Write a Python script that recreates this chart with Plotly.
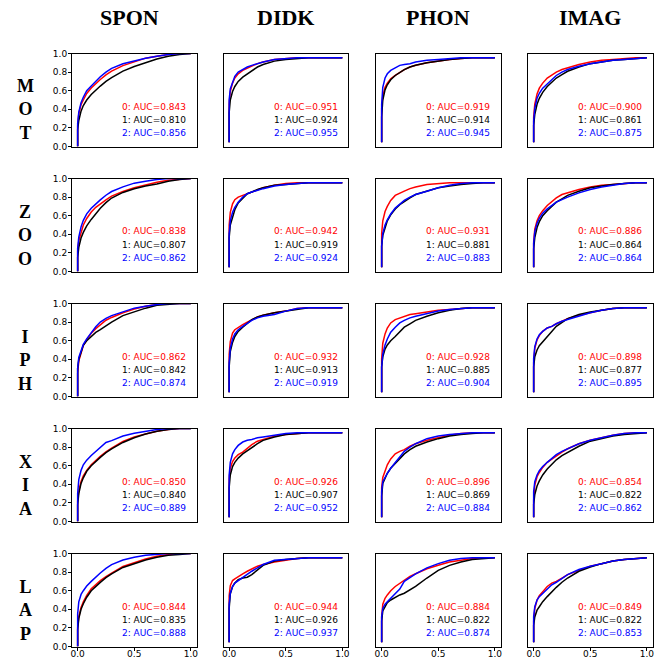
import plotly.graph_objects as go

# ---------------- data ----------------
ROWS = ["MOT", "ZOO", "IPH", "XIA", "LAP"]
COLS = ["SPON", "DIDK", "PHON", "IMAG"]
CLASS_NAMES = ["0", "1", "2"]
CLASS_COLORS = ["#ff0000", "#000000", "#0000ff"]

# shared false-positive-rate grid (x of each ROC point)
FPR = [0, 0, 0.01, 0.03, 0.05, 0.08, 0.12, 0.16, 0.2, 0.25, 0.3, 0.4, 0.5, 0.6, 0.7, 0.8, 0.9, 1.0]

# AUC values printed in each panel: [class0, class1, class2]
AUC_MOT = [[0.843, 0.810, 0.856], [0.951, 0.924, 0.955], [0.919, 0.914, 0.945], [0.900, 0.861, 0.875]]
AUC_ZOO = [[0.838, 0.807, 0.862], [0.942, 0.919, 0.924], [0.931, 0.881, 0.883], [0.886, 0.864, 0.864]]
AUC_IPH = [[0.862, 0.842, 0.874], [0.932, 0.913, 0.919], [0.928, 0.885, 0.904], [0.898, 0.877, 0.895]]
AUC_XIA = [[0.850, 0.840, 0.889], [0.926, 0.907, 0.952], [0.896, 0.869, 0.884], [0.854, 0.822, 0.862]]
AUC_LAP = [[0.844, 0.835, 0.888], [0.944, 0.926, 0.937], [0.884, 0.822, 0.874], [0.849, 0.822, 0.853]]

# true-positive rates (one list per class, per panel)
MOT_SPON_0 = [0, 0.22, 0.35, 0.45, 0.50, 0.57, 0.63, 0.68, 0.72, 0.77, 0.81, 0.87, 0.91, 0.95, 0.97, 0.99, 1.0, 1.0]
MOT_SPON_1 = [0, 0.18, 0.28, 0.38, 0.44, 0.50, 0.56, 0.61, 0.65, 0.70, 0.74, 0.81, 0.86, 0.90, 0.94, 0.97, 0.99, 1.0]
MOT_SPON_2 = [0, 0.25, 0.37, 0.47, 0.53, 0.60, 0.65, 0.70, 0.75, 0.80, 0.84, 0.89, 0.92, 0.95, 0.97, 0.99, 1.0, 1.0]
MOT_DIDK_0 = [0, 0.45, 0.60, 0.70, 0.76, 0.81, 0.85, 0.88, 0.90, 0.93, 0.95, 0.98, 0.99, 1.0, 1.0, 1.0, 1.0, 1.0]
MOT_DIDK_1 = [0, 0.35, 0.50, 0.60, 0.66, 0.72, 0.77, 0.81, 0.85, 0.89, 0.92, 0.96, 0.98, 0.99, 1.0, 1.0, 1.0, 1.0]
MOT_DIDK_2 = [0, 0.50, 0.63, 0.72, 0.78, 0.83, 0.86, 0.89, 0.91, 0.93, 0.95, 0.98, 0.99, 1.0, 1.0, 1.0, 1.0, 1.0]
MOT_PHON_0 = [0, 0.40, 0.55, 0.65, 0.70, 0.75, 0.79, 0.83, 0.86, 0.89, 0.91, 0.94, 0.96, 0.98, 0.99, 1.0, 1.0, 1.0]
MOT_PHON_1 = [0, 0.30, 0.50, 0.62, 0.68, 0.74, 0.79, 0.83, 0.86, 0.89, 0.91, 0.94, 0.96, 0.98, 0.99, 1.0, 1.0, 1.0]
MOT_PHON_2 = [0, 0.45, 0.65, 0.76, 0.81, 0.85, 0.88, 0.91, 0.92, 0.93, 0.95, 0.97, 0.98, 0.99, 1.0, 1.0, 1.0, 1.0]
MOT_IMAG_0 = [0, 0.30, 0.45, 0.57, 0.64, 0.70, 0.76, 0.80, 0.83, 0.86, 0.88, 0.92, 0.95, 0.97, 0.98, 0.99, 1.0, 1.0]
MOT_IMAG_1 = [0, 0.20, 0.33, 0.45, 0.52, 0.59, 0.66, 0.71, 0.76, 0.80, 0.84, 0.89, 0.93, 0.95, 0.97, 0.98, 0.99, 1.0]
MOT_IMAG_2 = [0, 0.25, 0.40, 0.52, 0.58, 0.64, 0.69, 0.74, 0.79, 0.83, 0.86, 0.90, 0.93, 0.95, 0.97, 0.98, 0.99, 1.0]

ZOO_SPON_0 = [0, 0.22, 0.33, 0.42, 0.50, 0.57, 0.64, 0.69, 0.73, 0.77, 0.81, 0.86, 0.90, 0.93, 0.96, 0.98, 0.99, 1.0]
ZOO_SPON_1 = [0, 0.15, 0.26, 0.36, 0.42, 0.49, 0.56, 0.62, 0.68, 0.74, 0.79, 0.85, 0.89, 0.92, 0.94, 0.97, 0.99, 1.0]
ZOO_SPON_2 = [0, 0.25, 0.37, 0.48, 0.55, 0.62, 0.68, 0.73, 0.77, 0.82, 0.86, 0.91, 0.95, 0.97, 0.99, 1.0, 1.0, 1.0]
ZOO_DIDK_0 = [0, 0.50, 0.65, 0.75, 0.80, 0.83, 0.85, 0.87, 0.89, 0.92, 0.94, 0.97, 0.99, 1.0, 1.0, 1.0, 1.0, 1.0]
ZOO_DIDK_1 = [0, 0.35, 0.50, 0.60, 0.68, 0.76, 0.82, 0.87, 0.89, 0.92, 0.94, 0.97, 0.98, 0.99, 1.0, 1.0, 1.0, 1.0]
ZOO_DIDK_2 = [0, 0.40, 0.55, 0.65, 0.71, 0.77, 0.83, 0.87, 0.89, 0.91, 0.93, 0.96, 0.98, 0.99, 1.0, 1.0, 1.0, 1.0]
ZOO_PHON_0 = [0, 0.40, 0.55, 0.66, 0.72, 0.79, 0.85, 0.88, 0.90, 0.93, 0.95, 0.98, 0.99, 1.0, 1.0, 1.0, 1.0, 1.0]
ZOO_PHON_1 = [0, 0.25, 0.38, 0.48, 0.55, 0.62, 0.69, 0.74, 0.78, 0.82, 0.86, 0.90, 0.94, 0.96, 0.98, 0.99, 1.0, 1.0]
ZOO_PHON_2 = [0, 0.25, 0.40, 0.50, 0.56, 0.63, 0.70, 0.75, 0.79, 0.83, 0.86, 0.90, 0.94, 0.97, 0.99, 1.0, 1.0, 1.0]
ZOO_IMAG_0 = [0, 0.30, 0.45, 0.55, 0.61, 0.67, 0.73, 0.78, 0.82, 0.86, 0.88, 0.92, 0.95, 0.97, 0.98, 0.99, 1.0, 1.0]
ZOO_IMAG_1 = [0, 0.22, 0.35, 0.47, 0.54, 0.61, 0.67, 0.72, 0.77, 0.81, 0.85, 0.90, 0.94, 0.96, 0.98, 0.99, 1.0, 1.0]
ZOO_IMAG_2 = [0, 0.28, 0.42, 0.52, 0.58, 0.64, 0.69, 0.73, 0.77, 0.80, 0.83, 0.88, 0.92, 0.95, 0.97, 0.99, 1.0, 1.0]

IPH_SPON_0 = [0, 0.25, 0.38, 0.48, 0.55, 0.61, 0.68, 0.73, 0.77, 0.82, 0.85, 0.90, 0.94, 0.97, 0.99, 1.0, 1.0, 1.0]
IPH_SPON_1 = [0, 0.30, 0.40, 0.49, 0.55, 0.60, 0.65, 0.69, 0.72, 0.76, 0.80, 0.87, 0.91, 0.95, 0.98, 0.99, 1.0, 1.0]
IPH_SPON_2 = [0, 0.30, 0.42, 0.50, 0.56, 0.62, 0.69, 0.75, 0.80, 0.84, 0.87, 0.91, 0.95, 0.97, 0.99, 1.0, 1.0, 1.0]
IPH_DIDK_0 = [0, 0.45, 0.60, 0.70, 0.74, 0.77, 0.80, 0.83, 0.86, 0.89, 0.91, 0.94, 0.96, 0.99, 1.0, 1.0, 1.0, 1.0]
IPH_DIDK_1 = [0, 0.30, 0.48, 0.59, 0.66, 0.72, 0.77, 0.82, 0.86, 0.89, 0.91, 0.94, 0.96, 0.98, 1.0, 1.0, 1.0, 1.0]
IPH_DIDK_2 = [0, 0.35, 0.52, 0.63, 0.69, 0.74, 0.78, 0.82, 0.85, 0.88, 0.90, 0.92, 0.96, 0.99, 1.0, 1.0, 1.0, 1.0]
IPH_PHON_0 = [0, 0.40, 0.58, 0.69, 0.76, 0.82, 0.86, 0.88, 0.90, 0.92, 0.93, 0.95, 0.97, 0.98, 0.99, 1.0, 1.0, 1.0]
IPH_PHON_1 = [0, 0.30, 0.42, 0.51, 0.56, 0.61, 0.66, 0.72, 0.77, 0.81, 0.85, 0.90, 0.94, 0.97, 0.99, 1.0, 1.0, 1.0]
IPH_PHON_2 = [0, 0.30, 0.45, 0.56, 0.63, 0.71, 0.77, 0.82, 0.85, 0.88, 0.90, 0.93, 0.96, 0.98, 0.99, 1.0, 1.0, 1.0]
IPH_IMAG_0 = [0, 0.35, 0.52, 0.62, 0.67, 0.72, 0.76, 0.78, 0.81, 0.84, 0.87, 0.91, 0.94, 0.97, 0.99, 1.0, 1.0, 1.0]
IPH_IMAG_1 = [0, 0.30, 0.42, 0.50, 0.55, 0.60, 0.66, 0.72, 0.78, 0.83, 0.87, 0.92, 0.95, 0.97, 0.99, 1.0, 1.0, 1.0]
IPH_IMAG_2 = [0, 0.40, 0.54, 0.63, 0.68, 0.72, 0.76, 0.78, 0.81, 0.84, 0.86, 0.90, 0.94, 0.97, 0.99, 1.0, 1.0, 1.0]

XIA_SPON_0 = [0, 0.22, 0.33, 0.43, 0.49, 0.55, 0.61, 0.66, 0.70, 0.75, 0.79, 0.86, 0.91, 0.94, 0.97, 0.99, 1.0, 1.0]
XIA_SPON_1 = [0, 0.18, 0.30, 0.41, 0.47, 0.54, 0.60, 0.65, 0.69, 0.74, 0.78, 0.85, 0.90, 0.94, 0.97, 0.99, 1.0, 1.0]
XIA_SPON_2 = [0, 0.30, 0.45, 0.55, 0.61, 0.66, 0.71, 0.75, 0.80, 0.85, 0.87, 0.92, 0.95, 0.97, 0.99, 1.0, 1.0, 1.0]
XIA_DIDK_0 = [0, 0.45, 0.58, 0.66, 0.70, 0.74, 0.77, 0.82, 0.86, 0.90, 0.92, 0.96, 0.98, 0.99, 1.0, 1.0, 1.0, 1.0]
XIA_DIDK_1 = [0, 0.35, 0.50, 0.60, 0.65, 0.70, 0.75, 0.79, 0.83, 0.87, 0.91, 0.95, 0.98, 0.99, 1.0, 1.0, 1.0, 1.0]
XIA_DIDK_2 = [0, 0.50, 0.65, 0.75, 0.80, 0.85, 0.89, 0.91, 0.92, 0.94, 0.95, 0.97, 0.99, 1.0, 1.0, 1.0, 1.0, 1.0]
XIA_PHON_0 = [0, 0.35, 0.47, 0.56, 0.62, 0.69, 0.75, 0.78, 0.80, 0.84, 0.87, 0.91, 0.94, 0.97, 0.99, 1.0, 1.0, 1.0]
XIA_PHON_1 = [0, 0.25, 0.40, 0.47, 0.52, 0.58, 0.64, 0.70, 0.75, 0.80, 0.84, 0.89, 0.93, 0.96, 0.98, 0.99, 1.0, 1.0]
XIA_PHON_2 = [0, 0.30, 0.42, 0.48, 0.52, 0.58, 0.65, 0.72, 0.78, 0.83, 0.87, 0.93, 0.96, 0.98, 0.99, 1.0, 1.0, 1.0]
XIA_IMAG_0 = [0, 0.20, 0.38, 0.48, 0.53, 0.59, 0.65, 0.69, 0.73, 0.77, 0.81, 0.87, 0.91, 0.94, 0.97, 0.99, 1.0, 1.0]
XIA_IMAG_1 = [0, 0.15, 0.27, 0.37, 0.43, 0.50, 0.57, 0.63, 0.68, 0.73, 0.77, 0.84, 0.90, 0.93, 0.96, 0.98, 0.99, 1.0]
XIA_IMAG_2 = [0, 0.30, 0.42, 0.50, 0.55, 0.60, 0.65, 0.70, 0.74, 0.78, 0.81, 0.87, 0.91, 0.94, 0.97, 0.99, 1.0, 1.0]

LAP_SPON_0 = [0, 0.20, 0.32, 0.42, 0.48, 0.55, 0.62, 0.67, 0.71, 0.75, 0.79, 0.86, 0.90, 0.94, 0.97, 0.99, 1.0, 1.0]
LAP_SPON_1 = [0, 0.18, 0.30, 0.40, 0.46, 0.53, 0.60, 0.65, 0.69, 0.74, 0.78, 0.85, 0.89, 0.93, 0.96, 0.98, 0.99, 1.0]
LAP_SPON_2 = [0, 0.35, 0.48, 0.56, 0.60, 0.65, 0.70, 0.75, 0.79, 0.84, 0.88, 0.93, 0.96, 0.98, 0.99, 1.0, 1.0, 1.0]
LAP_DIDK_0 = [0, 0.55, 0.67, 0.73, 0.75, 0.78, 0.81, 0.84, 0.87, 0.90, 0.92, 0.95, 0.97, 0.99, 1.0, 1.0, 1.0, 1.0]
LAP_DIDK_1 = [0, 0.40, 0.57, 0.66, 0.70, 0.74, 0.76, 0.77, 0.80, 0.86, 0.91, 0.96, 0.98, 0.99, 1.0, 1.0, 1.0, 1.0]
LAP_DIDK_2 = [0, 0.45, 0.58, 0.66, 0.70, 0.73, 0.77, 0.81, 0.84, 0.88, 0.92, 0.97, 0.98, 0.99, 1.0, 1.0, 1.0, 1.0]
LAP_PHON_0 = [0, 0.30, 0.45, 0.52, 0.56, 0.61, 0.66, 0.70, 0.74, 0.78, 0.81, 0.87, 0.91, 0.95, 0.97, 0.99, 1.0, 1.0]
LAP_PHON_1 = [0, 0.25, 0.37, 0.43, 0.47, 0.50, 0.53, 0.56, 0.58, 0.62, 0.66, 0.76, 0.85, 0.91, 0.95, 0.98, 0.99, 1.0]
LAP_PHON_2 = [0, 0.30, 0.40, 0.45, 0.48, 0.52, 0.57, 0.63, 0.72, 0.77, 0.81, 0.88, 0.93, 0.97, 0.99, 1.0, 1.0, 1.0]
LAP_IMAG_0 = [0, 0.25, 0.40, 0.50, 0.55, 0.60, 0.66, 0.70, 0.72, 0.76, 0.80, 0.85, 0.90, 0.93, 0.96, 0.98, 0.99, 1.0]
LAP_IMAG_1 = [0, 0.20, 0.30, 0.38, 0.42, 0.48, 0.54, 0.60, 0.65, 0.71, 0.76, 0.84, 0.89, 0.93, 0.96, 0.98, 0.99, 1.0]
LAP_IMAG_2 = [0, 0.30, 0.42, 0.50, 0.54, 0.58, 0.63, 0.68, 0.71, 0.75, 0.80, 0.86, 0.90, 0.93, 0.96, 0.98, 0.99, 1.0]

AUCS = {"MOT": AUC_MOT, "ZOO": AUC_ZOO, "IPH": AUC_IPH, "XIA": AUC_XIA, "LAP": AUC_LAP}

# ---------------- layout geometry (pixels) ----------------
W, H = 662, 658
COL_LEFT = [72, 223.5, 376, 528]
COL_W = 124.5
ROW_TOP = [53.5, 178.5, 303.5, 428.5, 553.5]
ROW_H = 93

fig = go.Figure()
annotations = []
layout_axes = {}

TICK_FONT = dict(family="DejaVu Sans", size=9, color="black")

for r, rname in enumerate(ROWS):
    for c, cname in enumerate(COLS):
        idx = r * len(COLS) + c + 1
        xa = "x" if idx == 1 else f"x{idx}"
        ya = "y" if idx == 1 else f"y{idx}"
        x0 = COL_LEFT[c] / W
        x1 = (COL_LEFT[c] + COL_W) / W
        y1 = 1 - ROW_TOP[r] / H
        y0 = 1 - (ROW_TOP[r] + ROW_H) / H

        for k in range(3):
            tpr = globals()[f"{rname}_{cname}_{k}"]
            fig.add_trace(go.Scatter(
                x=FPR, y=tpr, mode="lines",
                line=dict(color=CLASS_COLORS[k], width=1.5),
                xaxis=xa, yaxis=ya, showlegend=False, hoverinfo="skip"))

        bottom = (r == len(ROWS) - 1)
        left = (c == 0)
        layout_axes["xaxis" if idx == 1 else f"xaxis{idx}"] = dict(
            domain=[x0, x1], range=[-0.05, 1.05], anchor=ya,
            showline=True, mirror=True, linecolor="black", linewidth=1,
            showgrid=False, zeroline=False, automargin=False,
            ticks="outside" if bottom else "", ticklen=3, tickwidth=1, tickcolor="black",
            ticklabelstandoff=-4 if bottom else 0,
            tickvals=[0, 0.5, 1.0] if bottom else [],
            ticktext=["0.0", "0.5", "1.0"] if bottom else [],
            showticklabels=bottom, tickfont=TICK_FONT)
        layout_axes["yaxis" if idx == 1 else f"yaxis{idx}"] = dict(
            domain=[y0, y1], range=[0, 1.0] if left else [-0.05, 1.05], anchor=xa,
            showline=True, mirror=True, linecolor="black", linewidth=1,
            showgrid=False, zeroline=False, automargin=False,
            ticks="outside" if left else "", ticklen=3, tickwidth=1, tickcolor="black",
            ticklabelstandoff=-1 if left else 0,
            tickvals=[0, 0.2, 0.4, 0.6, 0.8, 1.0] if left else [],
            ticktext=["0.0", "0.2", "0.4", "0.6", "0.8", "1.0"] if left else [],
            showticklabels=left, tickfont=TICK_FONT)

        # AUC labels
        auc = AUCS[rname][c]
        right_px = COL_LEFT[c] + COL_W - 8.5
        for k in range(3):
            cy = ROW_TOP[r] + 53 + 13 * k
            annotations.append(dict(
                xref="paper", yref="paper", x=right_px / W, y=1 - cy / H,
                xanchor="right", yanchor="middle", showarrow=False,
                text=f"{CLASS_NAMES[k]}: AUC={auc[k]:.3f}",
                font=dict(family="DejaVu Sans", size=9, color=CLASS_COLORS[k])))

# column titles
TITLE_X = [129, 285.5, 437.5, 590]
for c, cname in enumerate(COLS):
    annotations.append(dict(
        xref="paper", yref="paper", x=TITLE_X[c] / W, y=1 - 17 / H,
        xanchor="center", yanchor="middle", showarrow=False, text=cname,
        font=dict(family="Liberation Serif", size=22, color="black", weight="bold")))

# row labels (stacked letters)
for r, rname in enumerate(ROWS):
    cy = ROW_TOP[r] + ROW_H / 2 + 10
    annotations.append(dict(
        xref="paper", yref="paper", x=25 / W, y=1 - cy / H,
        xanchor="center", yanchor="middle", showarrow=False,
        text="<br>".join(list(rname)),
        font=dict(family="Liberation Serif", size=18, color="black", weight="bold")))

fig.update_layout(
    width=W, height=H,
    margin=dict(l=0, r=0, t=0, b=0, autoexpand=False),
    paper_bgcolor="white", plot_bgcolor="white",
    showlegend=False,
    annotations=annotations,
    **layout_axes)

fig.write_html("out.html", config={"displayModeBar": False},
               post_script="document.body.style.margin='0px';")
